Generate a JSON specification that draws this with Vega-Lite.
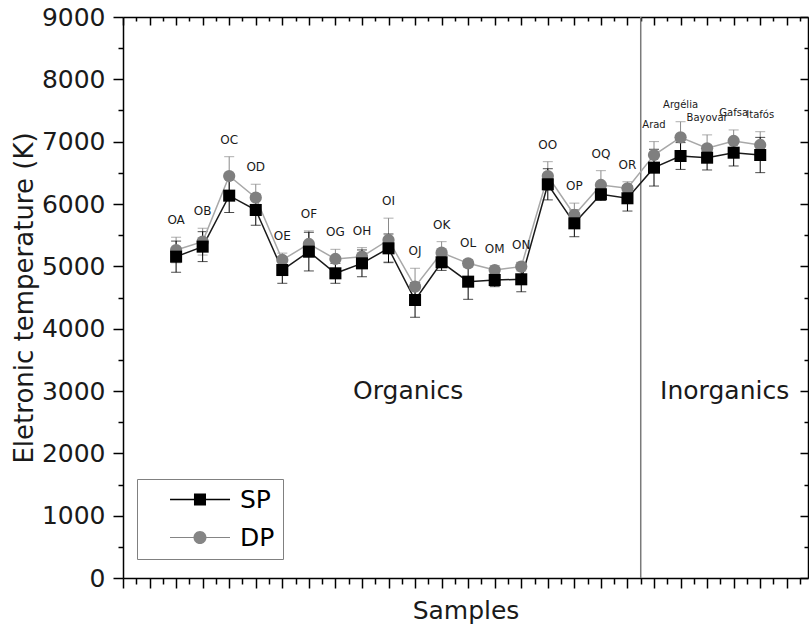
{
  "$schema": "https://vega.github.io/schema/vega-lite/v6.json",
  "width": 685,
  "height": 561,
  "autosize": {"type": "none"},
  "padding": {"left": 123, "top": 17, "right": 1, "bottom": 57},
  "background": "white",
  "config": {"view": {"stroke": null}, "font": "DejaVu Sans"},
  "datasets": {
    "temps": [
      {"sample": "OA", "idx": 2, "series": "SP", "value": 5155, "err": 250},
      {"sample": "OA", "idx": 2, "series": "DP", "value": 5262, "err": 205},
      {"sample": "OB", "idx": 3, "series": "SP", "value": 5316, "err": 240},
      {"sample": "OB", "idx": 3, "series": "DP", "value": 5396, "err": 215},
      {"sample": "OC", "idx": 4, "series": "SP", "value": 6134, "err": 270},
      {"sample": "OC", "idx": 4, "series": "DP", "value": 6449, "err": 310},
      {"sample": "OD", "idx": 5, "series": "SP", "value": 5904, "err": 245},
      {"sample": "OD", "idx": 5, "series": "DP", "value": 6102, "err": 215},
      {"sample": "OE", "idx": 6, "series": "SP", "value": 4941, "err": 213},
      {"sample": "OE", "idx": 6, "series": "DP", "value": 5102, "err": 110},
      {"sample": "OF", "idx": 7, "series": "SP", "value": 5236, "err": 310},
      {"sample": "OF", "idx": 7, "series": "DP", "value": 5359, "err": 210},
      {"sample": "OG", "idx": 8, "series": "SP", "value": 4888, "err": 160},
      {"sample": "OG", "idx": 8, "series": "DP", "value": 5118, "err": 155},
      {"sample": "OH", "idx": 9, "series": "SP", "value": 5048, "err": 215},
      {"sample": "OH", "idx": 9, "series": "DP", "value": 5155, "err": 145},
      {"sample": "OI", "idx": 10, "series": "SP", "value": 5289, "err": 230},
      {"sample": "OI", "idx": 10, "series": "DP", "value": 5423, "err": 350},
      {"sample": "OJ", "idx": 11, "series": "SP", "value": 4460, "err": 277},
      {"sample": "OJ", "idx": 11, "series": "DP", "value": 4674, "err": 295},
      {"sample": "OK", "idx": 12, "series": "SP", "value": 5065, "err": 130},
      {"sample": "OK", "idx": 12, "series": "DP", "value": 5219, "err": 177},
      {"sample": "OL", "idx": 13, "series": "SP", "value": 4754, "err": 283},
      {"sample": "OL", "idx": 13, "series": "DP", "value": 5048, "err": 60},
      {"sample": "OM", "idx": 14, "series": "SP", "value": 4781, "err": 107},
      {"sample": "OM", "idx": 14, "series": "DP", "value": 4941, "err": 70},
      {"sample": "ON", "idx": 15, "series": "SP", "value": 4792, "err": 200},
      {"sample": "ON", "idx": 15, "series": "DP", "value": 4995, "err": 70},
      {"sample": "OO", "idx": 16, "series": "SP", "value": 6316, "err": 250},
      {"sample": "OO", "idx": 16, "series": "DP", "value": 6449, "err": 230},
      {"sample": "OP", "idx": 17, "series": "SP", "value": 5690, "err": 215},
      {"sample": "OP", "idx": 17, "series": "DP", "value": 5824, "err": 190},
      {"sample": "OQ", "idx": 18, "series": "SP", "value": 6156, "err": 100},
      {"sample": "OQ", "idx": 18, "series": "DP", "value": 6305, "err": 230},
      {"sample": "OR", "idx": 19, "series": "SP", "value": 6092, "err": 205},
      {"sample": "OR", "idx": 19, "series": "DP", "value": 6252, "err": 105},
      {"sample": "Arad", "idx": 20, "series": "SP", "value": 6583, "err": 295},
      {"sample": "Arad", "idx": 20, "series": "DP", "value": 6786, "err": 215},
      {"sample": "Argélia", "idx": 21, "series": "SP", "value": 6770, "err": 215},
      {"sample": "Argélia", "idx": 21, "series": "DP", "value": 7070, "err": 250},
      {"sample": "Bayovar", "idx": 22, "series": "SP", "value": 6743, "err": 197},
      {"sample": "Bayovar", "idx": 22, "series": "DP", "value": 6894, "err": 215},
      {"sample": "Gafsa", "idx": 23, "series": "SP", "value": 6823, "err": 213},
      {"sample": "Gafsa", "idx": 23, "series": "DP", "value": 7011, "err": 177},
      {"sample": "Itafós", "idx": 24, "series": "SP", "value": 6786, "err": 283},
      {"sample": "Itafós", "idx": 24, "series": "DP", "value": 6947, "err": 213}
    ],
    "regions": [
      {"region": "Organics", "xpos": 10.74, "ypos": 3000},
      {"region": "Inorganics", "xpos": 22.66, "ypos": 3000}
    ],
    "divider": [
      {"boundary": 19.5}
    ]
  },
  "data": {"name": "temps"},
  "resolve": {"axis": {"x": "independent", "y": "independent"}},
  "layer": [
    {
      "data": {"name": "divider"},
      "mark": {"type": "rule", "color": "#7a7a7a", "strokeWidth": 1.5},
      "encoding": {
        "x": {"field": "boundary", "type": "quantitative", "scale": {"domain": [0, 25.8], "nice": false, "zero": false}, "axis": null}
      }
    },
    {
      "transform": [{"filter": "datum.series === 'DP'"}],
      "mark": {"type": "errorbar", "ticks": {"size": 10, "color": "#8a8a8a"}, "rule": {"color": "#8a8a8a"}, "thickness": 1},
      "encoding": {
        "x": {"field": "idx", "type": "quantitative", "axis": null},
        "y": {"field": "value", "type": "quantitative", "scale": {"domain": [0, 9000], "nice": false, "zero": true}, "axis": null},
        "yError": {"field": "err"}
      }
    },
    {
      "transform": [{"filter": "datum.series === 'SP'"}],
      "mark": {"type": "errorbar", "ticks": {"size": 10, "color": "#000000"}, "rule": {"color": "#000000"}, "thickness": 1},
      "encoding": {
        "x": {"field": "idx", "type": "quantitative", "axis": null},
        "y": {"field": "value", "type": "quantitative", "axis": null},
        "yError": {"field": "err"}
      }
    },
    {
      "transform": [{"filter": "datum.series === 'DP'"}],
      "mark": {"type": "line", "strokeWidth": 1.5, "color": "#a8a8a8"},
      "encoding": {
        "x": {"field": "idx", "type": "quantitative",
          "axis": {"orient": "bottom", "values": [0,0.5,1,1.5,2,2.5,3,3.5,4,4.5,5,5.5,6,6.5,7,7.5,8,8.5,9,9.5,10,10.5,11,11.5,12,12.5,13,13.5,14,14.5,15,15.5,16,16.5,17,17.5,18,18.5,19,19.5,20,20.5,21,21.5,22,22.5,23,23.5,24,24.5,25,25.5],
            "labels": false, "grid": false, "title": "Samples", "titleFont": "DejaVu Sans", "titleFontSize": 25, "titleFontWeight": "normal", "titleColor": "#1a1a1a", "titlePadding": 10,
            "domainColor": "#000", "domainWidth": 1.5, "tickColor": "#000", "tickWidth": 1.5,
            "tickSize": {"condition": {"test": "datum.value % 1 === 0", "value": 10}, "value": 6}}},
        "y": {"field": "value", "type": "quantitative",
          "axis": {"orient": "left", "values": [0,500,1000,1500,2000,2500,3000,3500,4000,4500,5000,5500,6000,6500,7000,7500,8000,8500,9000],
            "format": "d", "labelExpr": "datum.value % 1000 === 0 ? datum.label : ''",
            "labelFont": "DejaVu Sans", "labelFontSize": 25, "labelColor": "#1a1a1a", "labelPadding": 8,
            "grid": false, "title": "Eletronic temperature (K)", "titleFont": "DejaVu Sans", "titleFontSize": 26, "titleFontWeight": "normal", "titleColor": "#1a1a1a", "titlePadding": 4,
            "domainColor": "#000", "domainWidth": 1.5, "tickColor": "#000", "tickWidth": 1.5,
            "tickSize": {"condition": {"test": "datum.value % 1000 === 0", "value": 10}, "value": 5}}}
      }
    },
    {
      "transform": [{"filter": "datum.series === 'SP'"}],
      "mark": {"type": "line", "strokeWidth": 1.5, "color": "#1a1a1a"},
      "encoding": {
        "x": {"field": "idx", "type": "quantitative", "axis": null},
        "y": {"field": "value", "type": "quantitative", "axis": null}
      }
    },
    {
      "transform": [{"filter": "datum.series === 'DP'"}],
      "mark": {"type": "point", "shape": "circle", "filled": true, "size": 150, "opacity": 1, "color": "#7f7f7f"},
      "encoding": {
        "x": {"field": "idx", "type": "quantitative",
          "axis": {"orient": "top", "values": [0,0.5,1,1.5,2,2.5,3,3.5,4,4.5,5,5.5,6,6.5,7,7.5,8,8.5,9,9.5,10,10.5,11,11.5,12,12.5,13,13.5,14,14.5,15,15.5,16,16.5,17,17.5,18,18.5,19,19.5,20,20.5,21,21.5,22,22.5,23,23.5,24,24.5,25,25.5],
            "labels": false, "grid": false, "title": null,
            "domainColor": "#000", "domainWidth": 1.5, "tickColor": "#000", "tickWidth": 1.5,
            "tickSize": {"condition": {"test": "datum.value % 1 === 0", "value": -8}, "value": -4}}},
        "y": {"field": "value", "type": "quantitative",
          "axis": {"orient": "right", "values": [0,500,1000,1500,2000,2500,3000,3500,4000,4500,5000,5500,6000,6500,7000,7500,8000,8500,9000],
            "labels": false, "grid": false, "title": null,
            "domainColor": "#000", "domainWidth": 1.5, "tickColor": "#000", "tickWidth": 1.5,
            "tickSize": {"condition": {"test": "datum.value % 1000 === 0", "value": -8}, "value": -4}}}
      }
    },
    {
      "transform": [{"filter": "datum.series === 'SP'"}],
      "mark": {"type": "point", "shape": "square", "filled": true, "size": 145, "opacity": 1, "color": "#000000"},
      "encoding": {
        "x": {"field": "idx", "type": "quantitative", "axis": null},
        "y": {"field": "value", "type": "quantitative", "axis": null}
      }
    },
    {
      "transform": [{"filter": "datum.series === 'DP'"}, {"calculate": "datum.value + datum.err", "as": "top"}],
      "mark": {"type": "text", "baseline": "middle", "align": "center", "dy": -17, "color": "#1a1a1a", "font": "DejaVu Sans"},
      "encoding": {
        "x": {"field": "idx", "type": "quantitative", "axis": null},
        "y": {"field": "top", "type": "quantitative", "axis": null},
        "text": {"field": "sample"},
        "size": {"condition": {"test": "datum.idx >= 20", "value": 10}, "value": 12}
      }
    },
    {
      "data": {"name": "regions"},
      "mark": {"type": "text", "baseline": "middle", "align": "center", "fontSize": 25, "color": "#1a1a1a", "font": "DejaVu Sans"},
      "encoding": {
        "x": {"field": "xpos", "type": "quantitative", "axis": null},
        "y": {"field": "ypos", "type": "quantitative", "axis": null},
        "text": {"field": "region"}
      }
    },
    {
      "mark": {"type": "point", "filled": true, "opacity": 0},
      "encoding": {
        "x": {"field": "idx", "type": "quantitative", "axis": null},
        "y": {"field": "value", "type": "quantitative", "axis": null},
        "color": {"field": "series", "type": "nominal",
          "scale": {"domain": ["SP", "DP"], "range": ["#000000", "#858585"]},
          "legend": {"title": null, "orient": "none", "legendX": 14, "legendY": 462, "strokeColor": "#808080", "fillColor": "white", "padding": 8, "symbolSize": 196, "symbolStrokeWidth": 0, "symbolOpacity": 1, "labelFont": "DejaVu Sans", "labelFontSize": 25, "labelColor": "#000", "labelOffset": 70, "rowPadding": 12, "labelExpr": "datum.label + ' '"}},
        "shape": {"field": "series", "type": "nominal",
          "scale": {"domain": ["SP", "DP"], "range": ["M1.79,-0.1H10.36V0.1H1.79ZM5.21,-0.86H6.93V0.86H5.21Z", "M1.79,-0.07H10.36V0.07H1.79ZM7.0,0A0.93,0.93,0,1,1,5.14,0A0.93,0.93,0,1,1,7.0,0Z"]},
          "legend": {"title": null, "orient": "none", "legendX": 14, "legendY": 462, "strokeColor": "#808080", "fillColor": "white", "padding": 8, "symbolSize": 196, "symbolStrokeWidth": 0, "symbolOpacity": 1, "labelFont": "DejaVu Sans", "labelFontSize": 25, "labelColor": "#000", "labelOffset": 70, "rowPadding": 12, "labelExpr": "datum.label + ' '"}}
      }
    }
  ]
}
